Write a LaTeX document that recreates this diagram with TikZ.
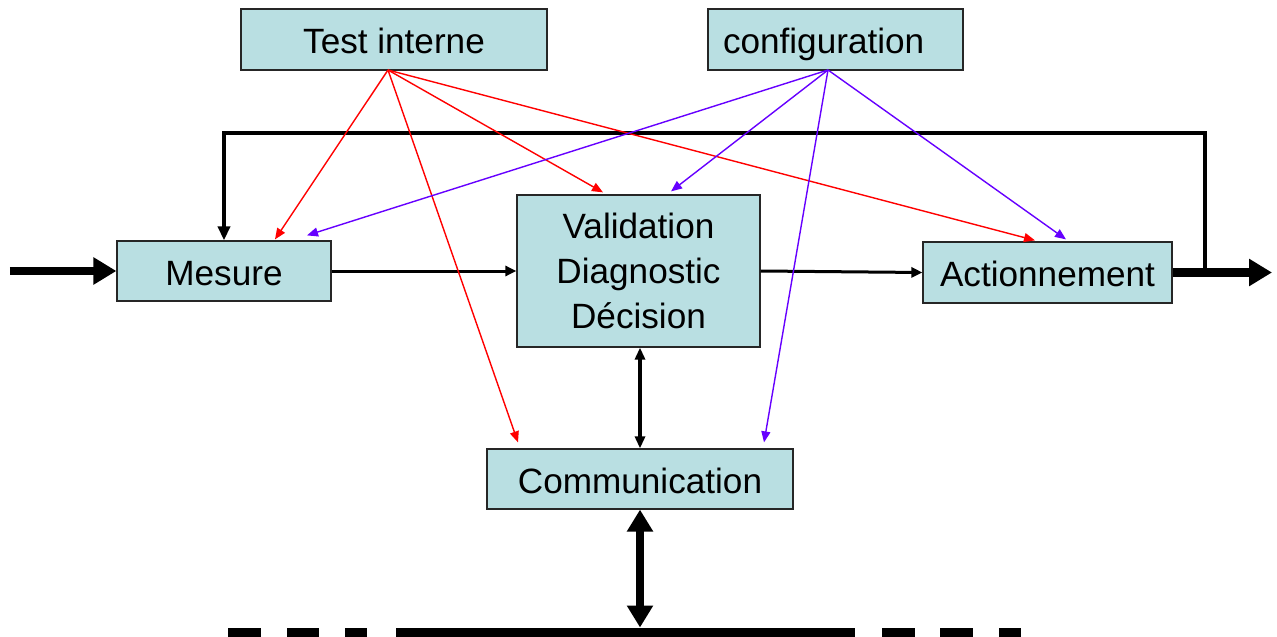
\documentclass[tikz,border=0pt]{standalone}
\usepackage{fontspec}
\setmainfont{Liberation Sans}
\usetikzlibrary{arrows.meta,calc}

\definecolor{boxfill}{RGB}{185,223,226}
\definecolor{cfgviolet}{RGB}{102,0,255}

\tikzset{
  bloc/.style={draw=black!85, line width=0.7pt, fill=boxfill, inner sep=0pt, align=center,
    font=\fontsize{20}{25.6}\selectfont},
  ligne/.style={bloc, text height=16.3pt, text depth=0pt},
  flux/.style={line width=0.06cm, -{Triangle[length=0.22cm,width=0.2cm]}},
  boucle/.style={line width=0.08cm, -{Triangle[length=0.28cm,width=0.24cm]}},
  gros/.style={line width=0.17cm, -{Triangle[length=0.46cm,width=0.52cm]}},
  testfl/.style={red, line width=0.8pt, -{Triangle[length=0.22cm,width=0.18cm]}},
  conffl/.style={cfgviolet, line width=0.8pt, -{Triangle[length=0.22cm,width=0.18cm]}},
  busline/.style={line width=0.18cm}
}

\begin{document}
\begin{tikzpicture}
  \useasboundingbox (0,0) rectangle (25.54,12.72);

  \node[ligne, minimum width=6.12cm, minimum height=1.22cm] (test) at (7.88,11.93) {Test interne};
  \node[ligne, minimum width=5.10cm, minimum height=1.22cm, text width=4.5cm, align=left] (config) at (16.71,11.93) {configuration};
  \node[ligne, minimum width=4.28cm, minimum height=1.20cm] (mesure) at (4.48,7.30) {Mesure};
  \node[bloc, minimum width=4.86cm, minimum height=3.04cm] (valid) at (12.77,7.30) {Validation\\Diagnostic\\Décision};
  \node[ligne, minimum width=4.98cm, minimum height=1.22cm] (action) at (20.95,7.27) {Actionnement};
  \node[ligne, minimum width=6.12cm, minimum height=1.20cm] (comm) at (12.80,3.14) {Communication};

  \coordinate (entree) at (0.2,7.30);
  \coordinate (sortie) at (25.44,7.27);
  \coordinate (retour) at (24.10,7.27);
  \coordinate (bus) at (12.80,0.17);
  \coordinate (t0) at (7.76,11.32);
  \coordinate (c0) at (16.56,11.32);

  % chaine principale
  \draw[gros] (entree) -- (mesure.west);
  \draw[flux] (mesure.east) -- (valid.west);
  \draw[flux] (valid.east) -- (action.west);
  \draw[gros] (action.east) -- (sortie);
  \draw[boucle] (retour) -- ++(0,2.79) -| (mesure.north);

  % test interne
  \draw[testfl] (t0) -- ($(mesure.north)+(1.02,0.02)$);
  \draw[testfl] (t0) -- ($(valid.north)+(-0.71,0.04)$);
  \draw[testfl] (t0) -- ($(action.north)+(-0.25,0.02)$);
  \draw[testfl] (t0) -- ($(comm.north)+(-2.44,0.12)$);

  % configuration
  \draw[conffl] (c0) -- ($(mesure.north)+(1.66,0.10)$);
  \draw[conffl] (c0) -- ($(valid.north)+(0.65,0.06)$);
  \draw[conffl] (c0) -- ($(action.north)+(0.37,0.04)$);
  \draw[conffl] (c0) -- ($(comm.north)+(2.48,0.12)$);

  \draw[line width=0.07cm, {Triangle[length=0.24cm,width=0.2cm]}-{Triangle[length=0.24cm,width=0.2cm]}]
    (comm.north |- valid.south) -- (comm.north);
  \draw[line width=0.16cm, {Triangle[length=0.44cm,width=0.5cm]}-{Triangle[length=0.44cm,width=0.5cm]}]
    (comm.south) -- (bus);

  % bus
  \draw[busline] (7.92,0.08) -- (17.10,0.08);
  \foreach \a/\b in {4.56/5.22, 5.74/6.38, 6.90/7.34, 17.64/18.30, 18.80/19.46, 19.98/20.42}
    \draw[busline] (\a,0.08) -- (\b,0.08);
\end{tikzpicture}
\end{document}
